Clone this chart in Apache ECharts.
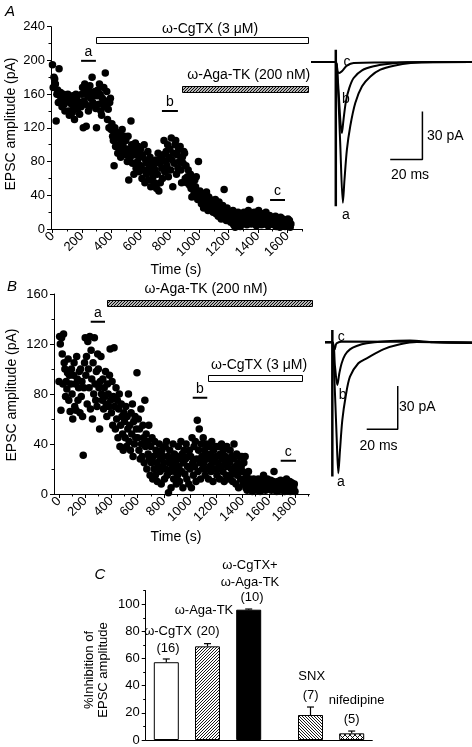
<!DOCTYPE html>
<html><head><meta charset="utf-8">
<script src="https://cdn.jsdelivr.net/npm/echarts@6/dist/echarts.min.js"></script>
<style>html,body{margin:0;padding:0;background:#fff}#c{width:472px;height:747px}</style>
</head><body><div id="c"></div>
<script>
// ---------------- DATA ----------------
const sampleInterval = 5; // s between EPSCs

// Panel A: EPSC amplitude (pA), one value every 5 s from t = 0
const epscA = [
195,168,180,178,172,128,160,165,150,190,158,162,150,145,155,160,148,140,152,155,
153,160,140,135,150,155,148,138,158,145,130,152,160,155,142,150,147,136,150,145,
160,168,120,152,172,148,122,165,158,140,145,170,155,162,180,150,148,158,163,143,
120,158,165,148,172,160,140,135,155,150,168,145,185,152,163,130,142,120,150,155,
118,125,110,105,75,120,98,115,100,90,108,112,95,85,105,118,100,92,110,88,
105,95,80,110,58,90,85,128,100,78,95,65,88,102,72,92,80,98,68,85,
95,75,60,88,70,100,55,82,65,78,92,58,72,85,50,68,80,62,75,55,
70,82,48,65,90,45,78,55,85,72,60,88,105,68,80,92,75,100,62,85,
95,70,108,82,50,90,78,100,105,65,88,72,95,80,98,70,55,85,78,92,
90,60,75,55,62,70,58,52,65,48,38,55,60,42,58,50,62,45,35,80,
40,45,35,30,42,38,25,40,32,35,44,28,22,38,30,35,25,32,28,20,
30,25,35,18,28,22,15,32,20,25,12,18,28,22,47,15,20,10,25,18,
15,12,20,8,18,10,22,5,14,2,18,12,8,20,15,10,3,16,12,6,
14,20,8,12,18,5,15,22,10,35,12,6,18,14,8,20,10,15,4,12,
10,22,8,15,12,5,18,10,14,6,12,20,8,15,4,10,16,8,12,6,
8,12,5,10,15,3,8,12,6,10,2,14,8,5,12,7,10,3,9,5,
8,12,4,10,2,6];

// Panel B: EPSC amplitude (pA), one value every 5 s from t = 0
const epscB = [
90,126,120,67,125,112,88,128,105,100,78,90,84,97,108,75,95,66,88,100,
80,60,95,105,70,88,67,110,92,75,85,98,65,100,78,90,62,31,85,105,
125,95,110,72,122,100,85,126,68,115,92,60,105,80,125,88,75,98,70,112,
100,85,52,90,110,80,75,92,68,85,78,98,72,62,88,80,70,95,116,75,
65,90,55,78,117,70,52,85,60,75,45,68,80,38,55,72,62,48,35,65,
58,45,70,38,62,52,80,42,55,35,65,48,72,30,58,40,62,45,52,97,
45,60,35,52,28,68,40,30,55,45,25,75,38,48,20,42,32,55,28,15,
38,25,45,12,30,20,42,15,35,25,10,32,22,40,18,28,8,35,20,30,
25,12,38,20,42,15,30,1,25,35,18,5,28,22,40,12,32,18,25,8,
30,15,38,22,10,28,42,18,32,5,25,35,16,28,40,12,22,30,8,35,
20,30,5,45,25,15,38,22,42,10,28,59,18,35,52,25,12,40,30,20,
45,25,35,15,30,40,20,28,12,38,22,32,18,42,25,10,35,28,20,38,
30,15,25,38,20,12,32,22,40,28,18,35,10,25,30,15,38,22,28,12,
25,35,15,20,30,10,28,40,18,22,8,32,15,25,5,20,30,12,22,30,
18,8,25,12,30,5,15,3,10,18,6,12,8,4,10,2,8,12,5,9,
6,10,3,8,12,5,9,2,7,11,4,8,15,6,10,3,8,5,12,7,
4,9,6,11,3,8,5,10,18,7,4,9,2,6,10,5,8,3,11,6,
8,4,10,6,2,9,5,12,3,7,8,4,10,2,6,9,3,7,5,8,
2];

const ticksA = [0,200,400,600,800,1000,1200,1400,1600];
const minorTicksA = [100,300,500,700,900,1100,1300,1500,1700];
const ticksB = [0,200,400,600,800,1000,1200,1400,1600,1800];
const minorTicksB = [100,300,500,700,900,1100,1300,1500,1700,1900];

// drug applications (s)
const drugNamesA = ['ω-CgTX (3 μM)', 'ω-Aga-TK (200 nM)'];
const drugStartA = [300, 880];
const drugEndA = [1742, 1742];
const drugNamesB = ['ω-Aga-TK (200 nM)', 'ω-CgTX (3 μM)'];
const drugStartB = [364, 1139];
const drugEndB = [1928, 1856];

// sample windows a, b, c (s)
const winNames = ['a','b','c'];
const winStartA = [195, 746, 1483];
const winEndA = [296, 855, 1585];
const winStartB = [242, 1020, 1691];
const winEndB = [351, 1131, 1808];

// averaged traces (ms, pA)
const trAa_t = [0,15.4,16.5,18.1,19.8,20.8,22.3,24.4,27.5,31.7,36.9,43.1,51.5,61.9,76,100];
const trAa_v = [0,0,-11,-49.6,-88,-73.6,-54.8,-40,-25.6,-15.2,-9,-4.8,-2.3,-0.6,0,0];
const trAb_t = [0,15.4,16.5,19.2,20.2,21.7,23.75,26.5,31.7,38.9,47.3,59.8,100];
const trAb_v = [0,0,-9,-44.4,-36,-24.6,-16.3,-10,-5.2,-2.7,-1.3,-0.2,0];
const trAc_t = [0,15.4,16.0,17.5,19.2,22.3,26.5,100];
const trAc_v = [0,0,-4.8,-6.9,-5.8,-2.3,-0.6,0];
const trBa_t = [0,4.73,6.0,7.5,8.6,9.68,11.18,13.3,16.1,21.5,26.9,37.6,48.4,59.1,94.8];
const trBa_v = [0,0,-23.8,-65.4,-90.7,-74.6,-53.8,-37.7,-23.8,-14.5,-11.1,-4.9,-1.4,0.2,-0.5];
const trBb_t = [0,4.73,6.45,7.96,9.25,10.75,12.9,16.1,20.4,26.9,37.6,54.8,69.9,94.8];
const trBb_v = [0,0,-16.9,-29.6,-21.5,-14.5,-8.8,-4.9,-2.6,-0.7,0.6,1.3,0,-0.5];
const trBc_t = [0,4.73,5.4,6.2,7.5,11.8,94.8];
const trBc_v = [0,0,-3,-4.9,-0.7,0.6,0];
const artifactA_t = [15.4,15.4], artifactA_v = [7.7,-90.2];
const artifactB_t = [4.73,4.73], artifactB_v = [8.5,-93];
const scaleA_t = [49.2,69.2,69.2], scaleA_v = [-61,-61,-31];
const scaleB_t = [26.9,46.9,46.9], scaleB_v = [-60.2,-60.2,-30.2];

// Panel C
const cNames = ['ω-CgTX','ω-Aga-TK','ω-CgTX+ω-Aga-TK','SNX','nifedipine'];
const cPos = [1,2,3,4.5,5.5];
const cMean = [57.3,69,96,18.4,4.9];
const cSem = [2.4,2,0.5,5.9,1.7];
const cN = [16,20,10,7,5];
const cTicks = [0,20,40,60,80,100];
const cMinor = [10,30,50,70,90,110];

// ---------------- LAYOUT / STYLE ----------------
const FONT = '"Liberation Sans", Arial, Helvetica, sans-serif';
function pattern(kind, s, lw) {
  const c = document.createElement('canvas'); c.width = s; c.height = s;
  const g = c.getContext('2d');
  g.fillStyle = '#fff'; g.fillRect(0,0,s,s);
  g.strokeStyle = '#000'; g.lineWidth = lw;
  const fwd = () => { g.beginPath(); g.moveTo(0,s); g.lineTo(s,0); g.moveTo(-1,1); g.lineTo(1,-1); g.moveTo(s-1,s+1); g.lineTo(s+1,s-1); g.stroke(); };
  const back = () => { g.beginPath(); g.moveTo(0,0); g.lineTo(s,s); g.moveTo(-1,s-1); g.lineTo(1,s+1); g.moveTo(s-1,-1); g.lineTo(s+1,1); g.stroke(); };
  if (kind === 'fwd') fwd();
  if (kind === 'back') back();
  if (kind === 'cross') { fwd(); back(); }
  return {image: c, repeat: 'repeat'};
}
const hatchFwd = pattern('fwd', 3, 1.1);
const hatchBar = pattern('fwd', 3, 0.9);
const hatchBack = pattern('back', 3, 0.9);
const hatchCross = pattern('cross', 5, 0.9);

const levelsDrugA = [224, 166], labelLevelA = [237, 183], labelTA = [1074, 1338];
const levelsDrugB = [153, 92.6], labelLevelB = [164, 103.2], labelTB = [1121, 1526];
const fillsA = ['#fff', hatchFwd], fillsB = [hatchFwd, '#fff'];
const winLevelA = [199.5, 140, 34.4];
const winLevelB = [137.8, 77, 26.6];

function drugSeries(xi, yi, names, starts, ends, levels, fills, lt, ll) {
  return {type:'custom', xAxisIndex:xi, yAxisIndex:yi, clip:false, silent:true, z:5,
    encode:{x:[0,1], y:2},
    data: starts.map((s,i)=>[s, ends[i], levels[i]]),
    renderItem: (params, api) => {
      const i = params.dataIndex;
      const p0 = api.coord([starts[i], levels[i]]);
      const p1 = api.coord([ends[i], levels[i]]);
      const lp = api.coord([lt[i], ll[i]]);
      const h = 6;
      return {type:'group', children:[
        {type:'rect', shape:{x:Math.round(p0[0])+0.5, y:Math.round(p0[1]-h/2)+0.5, width:Math.round(p1[0]-p0[0]), height:h},
          style:{fill: fills[i], stroke:'#000', lineWidth:1}},
        {type:'text', x: lp[0], y: lp[1], style:{text: names[i], font:'14px '+FONT, fill:'#000', align:'center', verticalAlign:'middle', textAlign:'center', textVerticalAlign:'middle'}}
      ]};
    }};
}
function winSeries(xi, yi, starts, ends, levels) {
  return {type:'custom', xAxisIndex:xi, yAxisIndex:yi, clip:false, silent:true, z:5,
    encode:{x:[0,1], y:2},
    data: starts.map((s,i)=>[s, ends[i], levels[i]]),
    renderItem: (params, api) => {
      const i = params.dataIndex;
      const p0 = api.coord([starts[i], levels[i]]);
      const p1 = api.coord([ends[i], levels[i]]);
      return {type:'group', children:[
        {type:'line', shape:{x1:p0[0], y1:p0[1], x2:p1[0], y2:p1[1]}, style:{stroke:'#000', lineWidth:2}},
        {type:'text', x:(p0[0]+p1[0])/2, y:p0[1]-9, style:{text: winNames[i], font:'14px '+FONT, fill:'#000', align:'center', verticalAlign:'middle', textAlign:'center', textVerticalAlign:'middle'}}
      ]};
    }};
}
function lineS(xi, yi, ts, vs, w) {
  return {type:'line', xAxisIndex:xi, yAxisIndex:yi, data: ts.map((t,i)=>[t, vs[i]]), symbol:'none',
    smooth: 0.3, lineStyle:{color:'#000', width:w}, silent:true, clip:false, z:3};
}
function polyS(xi, yi, ts, vs, w) {
  return {type:'line', xAxisIndex:xi, yAxisIndex:yi, data: ts.map((t,i)=>[t, vs[i]]), symbol:'none',
    smooth:false, lineStyle:{color:'#000', width:w}, silent:true, clip:false, z:4};
}

const plain = v => String(v);
const axLabel = {fontSize:13, color:'#000', fontFamily:FONT, formatter:plain};
const axLine = {show:true, onZero:false, lineStyle:{color:'#000', width:1}};
function mainX(gi, min, max, ticks) {
  return {gridIndex:gi, type:'value', min, max, position:'bottom', axisLine:axLine, splitLine:{show:false},
    axisTick:{show:true, customValues:ticks, length:4, lineStyle:{color:'#000'}},
    axisLabel:Object.assign({customValues:ticks, rotate:45, margin:5}, axLabel)};
}
function minorX(gi, min, max, ticks) {
  return {gridIndex:gi, type:'value', min, max, position:'bottom', axisLine:{show:false}, splitLine:{show:false},
    axisTick:{show:true, customValues:ticks, length:2.5, lineStyle:{color:'#000'}}, axisLabel:{show:false}};
}
function mainY(gi, max) {
  return {gridIndex:gi, type:'value', min:0, max, interval:40, position:'left', axisLine:axLine, splitLine:{show:false},
    axisTick:{show:true, length:4, lineStyle:{color:'#000'}},
    minorTick:{show:true, splitNumber:2, length:2.5, lineStyle:{color:'#000'}}, minorSplitLine:{show:false},
    axisLabel:Object.assign({margin:6}, axLabel)};
}
const hiddenX = (gi, max) => ({gridIndex:gi, type:'value', min:0, max, show:false});
const hiddenY = (gi, min, max) => ({gridIndex:gi, type:'value', min, max, show:false});

function T(x, y, text, size, o) {
  o = o || {};
  return {type:'text', x, y, rotation:o.rot||0, z:100, silent:true,
    style:{text, font:(o.italic?'italic ':'')+size+'px '+FONT, fill:'#000',
      align:o.align||'center', textAlign:o.align||'center', verticalAlign:'middle', textVerticalAlign:'middle',
      lineHeight:o.lh||size}};
}

const cColors = ['#fff', hatchBar, '#000', hatchBack, hatchCross];

const option = {
  animation:false,
  backgroundColor:'#fff',
  grid:[
    {left:51, top:26.7, width:250.9, height:202.3},
    {left:311, top:30, width:161, height:224},
    {left:54, top:294, width:255.4, height:200},
    {left:325, top:313.4, width:147, height:187.7},
    {left:145.7, top:590.7, width:226.6, height:149.3}
  ],
  xAxis:[
    mainX(0, -10, 1700, ticksA), minorX(0, -10, 1700, minorTicksA), hiddenX(1, 100),
    mainX(2, -38, 1910, ticksB), minorX(2, -38, 1910, minorTicksB), hiddenX(3, 94.8),
    {gridIndex:4, type:'value', min:0.5, max:6, position:'bottom', axisLine:axLine, axisTick:{show:false}, axisLabel:{show:false}, splitLine:{show:false}}
  ],
  yAxis:[
    mainY(0, 240), hiddenY(1, -120, 20),
    mainY(2, 160), hiddenY(3, -110, 20),
    {gridIndex:4, type:'value', min:0, max:110, position:'left', axisLine:axLine, splitLine:{show:false},
      axisTick:{show:true, customValues:cTicks, length:4, lineStyle:{color:'#000'}},
      axisLabel:Object.assign({customValues:cTicks, margin:6}, axLabel)},
    {gridIndex:4, type:'value', min:0, max:110, position:'left', axisLine:{show:false}, splitLine:{show:false},
      axisTick:{show:true, customValues:cMinor, length:2.5, lineStyle:{color:'#000'}}, axisLabel:{show:false}}
  ],
  series:[
    {type:'scatter', xAxisIndex:0, yAxisIndex:0, symbol:'circle', symbolSize:7.5, itemStyle:{color:'#000', opacity:1},
      data: epscA.map((v,i)=>[i*sampleInterval, v]), silent:true},
    drugSeries(0,0,drugNamesA,drugStartA,drugEndA,levelsDrugA,fillsA,labelTA,labelLevelA),
    winSeries(0,0,winStartA,winEndA,winLevelA),
    lineS(2,1,trAa_t,trAa_v,2), lineS(2,1,trAb_t,trAb_v,2), lineS(2,1,trAc_t,trAc_v,2),
    polyS(2,1,artifactA_t,artifactA_v,2.5), polyS(2,1,scaleA_t,scaleA_v,1.5),

    {type:'scatter', xAxisIndex:3, yAxisIndex:2, symbol:'circle', symbolSize:7.5, itemStyle:{color:'#000', opacity:1},
      data: epscB.map((v,i)=>[i*sampleInterval, v]), silent:true},
    drugSeries(3,2,drugNamesB,drugStartB,drugEndB,levelsDrugB,fillsB,labelTB,labelLevelB),
    winSeries(3,2,winStartB,winEndB,winLevelB),
    lineS(5,3,trBa_t,trBa_v,2), lineS(5,3,trBb_t,trBb_v,2), lineS(5,3,trBc_t,trBc_v,2),
    polyS(5,3,artifactB_t,artifactB_v,2.5), polyS(5,3,scaleB_t,scaleB_v,1.5),

    {type:'bar', xAxisIndex:6, yAxisIndex:4, barWidth:25, silent:true,
      data: cPos.map((p,i)=>({value:[p, cMean[i]], itemStyle:{color:cColors[i], borderColor:'#000', borderWidth:1}}))},
    {type:'custom', xAxisIndex:6, yAxisIndex:4, silent:true, clip:false, z:6,
      data: cPos.map((p,i)=>[p, cMean[i], cSem[i]]),
      renderItem:(params, api) => {
        const i = params.dataIndex;
        const a = api.coord([cPos[i], cMean[i]]);
        const b = api.coord([cPos[i], cMean[i] + cSem[i]]);
        return {type:'group', children:[
          {type:'line', shape:{x1:a[0], y1:a[1], x2:b[0], y2:b[1]}, style:{stroke:'#000', lineWidth:1.2}},
          {type:'line', shape:{x1:b[0]-3.5, y1:b[1], x2:b[0]+3.5, y2:b[1]}, style:{stroke:'#000', lineWidth:1.2}}
        ]};
      }}
  ],
  graphic:[
    T(10, 12, 'A', 15, {italic:true}),
    T(176, 270, 'Time (s)', 14),
    T(11.5, 124, 'EPSC amplitude (pA)', 14, {rot:Math.PI/2}),
    T(347, 62.3, 'c', 14), T(346, 99.5, 'b', 14), T(346, 214.7, 'a', 14),
    T(427, 136, '30 pA', 14, {align:'left'}), T(410, 175, '20 ms', 14),

    T(12, 287, 'B', 15, {italic:true}),
    T(176, 537, 'Time (s)', 14),
    T(12, 395, 'EPSC amplitude (pA)', 14, {rot:Math.PI/2}),
    T(341.3, 337.5, 'c', 14), T(342.7, 394.7, 'b', 14), T(341, 482.5, 'a', 14),
    T(399, 406.7, '30 pA', 14, {align:'left'}), T(378.5, 446, '20 ms', 14),

    T(100, 575, 'C', 15, {italic:true}),
    T(96.5, 670, '%Inhibition of\nEPSC amplitude', 13, {rot:Math.PI/2, lh:14}),
    T(250, 565, 'ω-CgTX+', 13), T(250, 582.7, 'ω-Aga-TK', 13), T(252, 597.3, '(' + cN[2] + ')', 13),
    T(204, 610.7, 'ω-Aga-TK', 13), T(208, 631.7, '(' + cN[1] + ')', 13),
    T(168, 631.7, 'ω-CgTX', 13), T(168, 648.3, '(' + cN[0] + ')', 13),
    T(311.7, 676.7, 'SNX', 13), T(310.7, 695, '(' + cN[3] + ')', 13),
    T(356.7, 700.7, 'nifedipine', 13), T(351.7, 719.3, '(' + cN[4] + ')', 13)
  ]
};
const chart = echarts.init(document.getElementById('c'), null, {renderer:'canvas'});
chart.setOption(option);
</script></body></html>
